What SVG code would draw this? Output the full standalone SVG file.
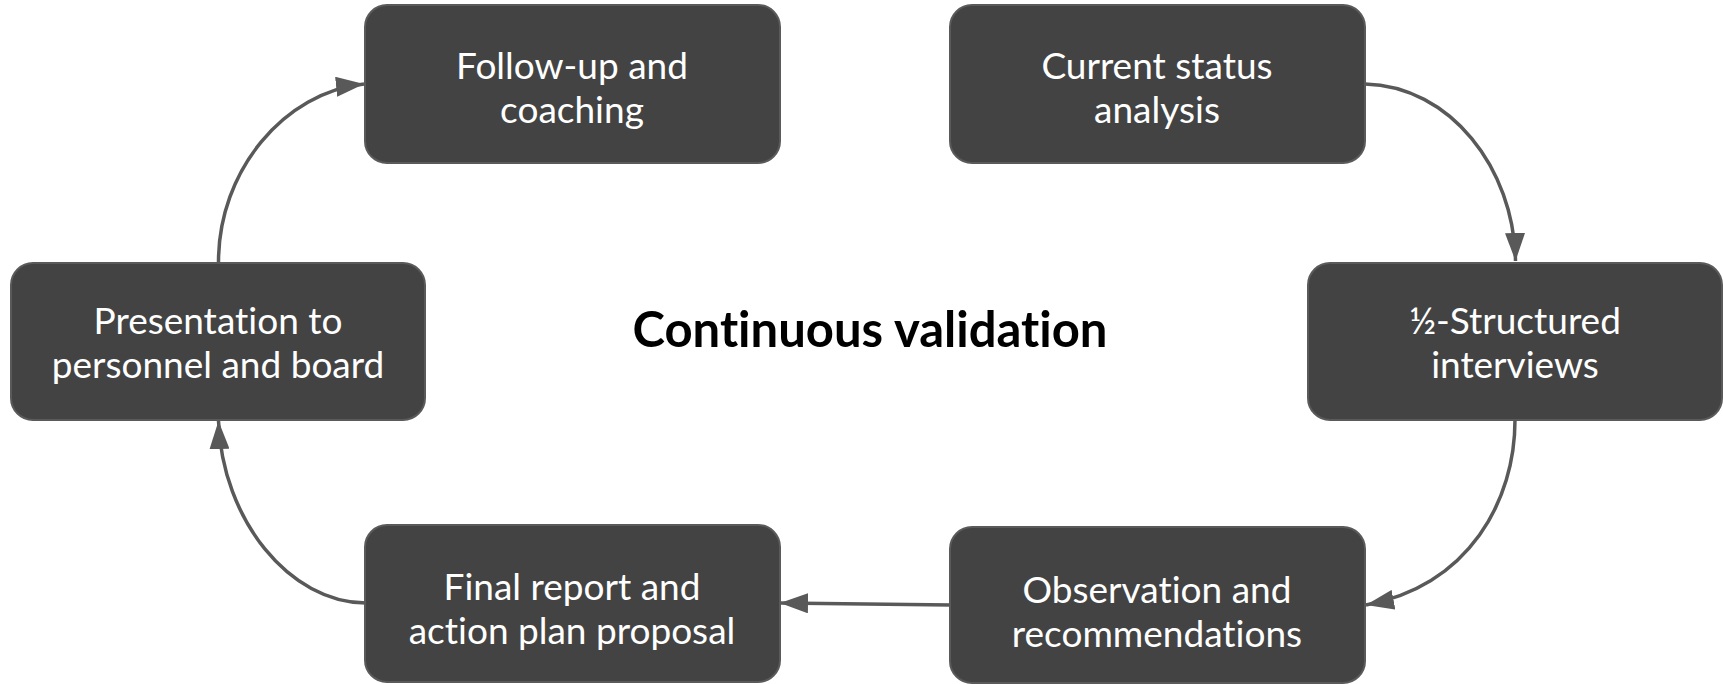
<svg xmlns="http://www.w3.org/2000/svg" width="1723" height="684" viewBox="0 0 1723 684">
<style>
text{font-variant-ligatures:none;font-feature-settings:"liga" 0,"dlig" 0}
.box{fill:#434343;stroke:#5a5a5a;stroke-width:2}
.lbl{font-family:Lato,"Liberation Sans",sans-serif;font-size:37px;fill:#ffffff;text-anchor:middle}
.title{font-family:Lato,"Liberation Sans",sans-serif;font-size:49px;font-weight:bold;fill:#000000;text-anchor:middle}
.conn{fill:none;stroke:#595959;stroke-width:3.5}
</style>
<defs>
<marker id="arr" viewBox="0 0 28 20" refX="28" refY="10" markerWidth="28" markerHeight="20" markerUnits="userSpaceOnUse" orient="auto">
<path d="M0,0 L28,10 L0,20 Z" fill="#595959"/>
</marker>
</defs>
<rect width="1723" height="684" fill="#ffffff"/>
<g id="connectors">
<path class="conn" d="M1365,84 C1450,86 1514,168 1515.5,261" marker-end="url(#arr)"/>
<path class="conn" d="M1515,420 C1515,500 1470,585 1366,605" marker-end="url(#arr)"/>
<path class="conn" d="M951,605 L780,603" marker-end="url(#arr)"/>
<path class="conn" d="M366,603 C290,603 222,520 218.5,421" marker-end="url(#arr)"/>
<path class="conn" d="M218.5,263 C218,170 285,92 364,84" marker-end="url(#arr)"/>
</g>
<g id="node-followup">
<rect class="box" x="365" y="5" width="415" height="158" rx="22"/>
<text class="lbl" x="572" y="79">Follow-up and</text>
<text class="lbl" x="572" y="123">coaching</text>
</g>
<g id="node-current">
<rect class="box" x="950" y="5" width="415" height="158" rx="22"/>
<text class="lbl" x="1157" y="79">Current status</text>
<text class="lbl" x="1157" y="123">analysis</text>
</g>
<g id="node-interviews">
<rect class="box" x="1308" y="263" width="414" height="157" rx="22"/>
<text class="lbl" x="1515" y="334">½-Structured</text>
<text class="lbl" x="1515" y="378">interviews</text>
</g>
<g id="node-presentation">
<rect class="box" x="11" y="263" width="414" height="157" rx="22"/>
<text class="lbl" x="218" y="334">Presentation to</text>
<text class="lbl" x="218" y="378">personnel and board</text>
</g>
<g id="node-final">
<rect class="box" x="365" y="525" width="415" height="157" rx="22"/>
<text class="lbl" x="572" y="600">Final report and</text>
<text class="lbl" x="572" y="644">action plan proposal</text>
</g>
<g id="node-observation">
<rect class="box" x="950" y="527" width="415" height="156" rx="22"/>
<text class="lbl" x="1157" y="603">Observation and</text>
<text class="lbl" x="1157" y="647">recommendations</text>
</g>
<g id="center-title">
<text class="title" x="870" y="347">Continuous validation</text>
</g>
</svg>
